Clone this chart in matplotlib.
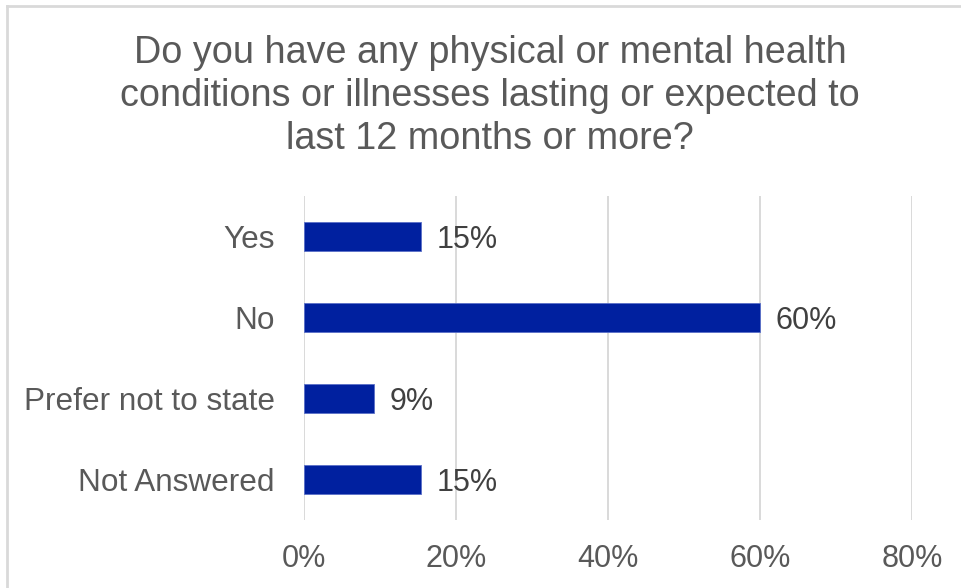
import matplotlib.pyplot as plt
from matplotlib.lines import Line2D
from matplotlib.ticker import FuncFormatter

plt.rcParams['font.family'] = ['Liberation Sans', 'DejaVu Sans']

# data
categories = ["Yes", "No", "Prefer not to state", "Not Answered"]
values = [15.4, 60.0, 9.2, 15.4]
value_labels = ["15%", "60%", "9%", "15%"]
x_ticks = [0, 20, 40, 60, 80]
title = ("Do you have any physical or mental health\n"
         "conditions or illnesses lasting or expected to\n"
         "last 12 months or more?")

bar_color = "#00209F"
text_color = "#595959"
grid_color = "#D9D9D9"

fig = plt.figure(figsize=(9.61, 5.88), dpi=100)
ax = fig.add_axes([304 / 961, 1 - 520 / 588, (912 - 304) / 961, (520 - 196) / 588])

ypos = list(range(len(categories)))
ax.barh(ypos, values, height=0.36, color=bar_color, edgecolor="#5A6FC8", linewidth=0.6, zorder=3)
for y, v, lab in zip(ypos, values, value_labels):
    ax.text(v + 2.1, y, lab, va="center_baseline", ha="left", fontsize=22, color="#404040")

ax.set_ylim(len(categories) - 0.5, -0.5)
ax.set_yticks(ypos)
ax.set_yticklabels(categories)
ax.set_xlim(0, 80)
ax.set_xticks(x_ticks)
ax.xaxis.set_major_formatter(FuncFormatter(lambda v, p: f"{v:.0f}%"))

ax.grid(axis="x", color=grid_color, linewidth=1.4, zorder=0)
ax.set_axisbelow(True)
for s in ["top", "right", "bottom", "left"]:
    ax.spines[s].set_visible(False)
ax.tick_params(axis="both", length=0, labelsize=22, colors=text_color)
ax.tick_params(axis="y", labelsize=22.7, pad=21)
ax.tick_params(axis="x", pad=17)

fig.text(490 / 961, 1 - 96 / 588, title, ha="center", va="center", fontsize=27.2,
         color=text_color, linespacing=1.25)

# chart border (top and left visible in the crop)
fig.add_artist(Line2D([7 / 961, 1], [1 - 6 / 588, 1 - 6 / 588], color="#D9D9D9", lw=2, transform=fig.transFigure))
fig.add_artist(Line2D([7 / 961, 7 / 961], [0, 1 - 6 / 588], color="#D9D9D9", lw=2, transform=fig.transFigure))

fig.savefig("out.png", dpi=100, facecolor="white")
